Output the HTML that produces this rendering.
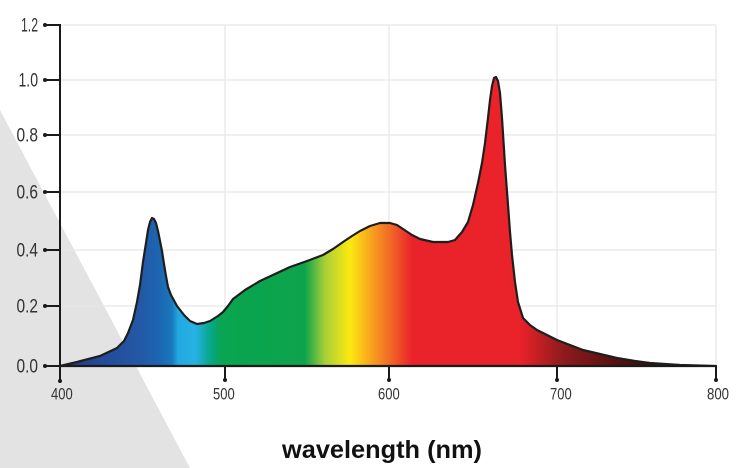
<!DOCTYPE html>
<html>
<head>
<meta charset="utf-8">
<style>
  html,body{margin:0;padding:0;background:#fff;}
  body{width:750px;height:468px;overflow:hidden;}
  svg{display:block;}
  .yl{font-family:"Liberation Sans Narrow","Liberation Sans",sans-serif;font-size:19px;fill:#333;}
  .xl{font-family:"Liberation Sans Narrow","Liberation Sans",sans-serif;font-size:16.5px;fill:#333;}
  .title{font-family:"Liberation Sans",sans-serif;font-weight:bold;font-size:25px;fill:#111;}
</style>
</head>
<body>
<svg width="750" height="468" viewBox="0 0 750 468" xmlns="http://www.w3.org/2000/svg">
  <defs>
    <linearGradient id="spec" gradientUnits="userSpaceOnUse" x1="60" y1="0" x2="716" y2="0">
      <stop offset="0" stop-color="#1f3c88"/>
      <stop offset="0.122" stop-color="#2458a6"/>
      <stop offset="0.152" stop-color="#1b66b1"/>
      <stop offset="0.171" stop-color="#1a78bd"/>
      <stop offset="0.180" stop-color="#22a8e0"/>
      <stop offset="0.206" stop-color="#27b1e4"/>
      <stop offset="0.229" stop-color="#07a78a"/>
      <stop offset="0.247" stop-color="#0aa550"/>
      <stop offset="0.373" stop-color="#0ca34b"/>
      <stop offset="0.404" stop-color="#a8cf38"/>
      <stop offset="0.442" stop-color="#fde910"/>
      <stop offset="0.473" stop-color="#f8a51d"/>
      <stop offset="0.503" stop-color="#f16a27"/>
      <stop offset="0.537" stop-color="#ea2229"/>
      <stop offset="0.701" stop-color="#ea2229"/>
      <stop offset="0.767" stop-color="#8e1b1d"/>
      <stop offset="0.843" stop-color="#5a1010"/>
      <stop offset="0.915" stop-color="#3a0d0d"/>
      <stop offset="1" stop-color="#2a0c0c"/>
    </linearGradient>
  </defs>

  <!-- gray triangle background -->
  <polygon points="0,110 190,468 0,468" fill="#e3e3e3"/>

  <!-- grid -->
  <g stroke="#e6e6e6" stroke-width="1.2">
    <line x1="60" y1="25" x2="716" y2="25"/>
    <line x1="60" y1="80" x2="716" y2="80"/>
    <line x1="60" y1="135" x2="716" y2="135"/>
    <line x1="60" y1="192" x2="716" y2="192"/>
    <line x1="60" y1="250" x2="716" y2="250"/>
    <line x1="60" y1="306" x2="716" y2="306"/>
    <line x1="225" y1="25" x2="225" y2="366"/>
    <line x1="389" y1="25" x2="389" y2="366"/>
    <line x1="557" y1="25" x2="557" y2="366"/>
    <line x1="716" y1="25" x2="716" y2="366"/>
  </g>

  <!-- spectrum area -->
  <path fill="url(#spec)" stroke="#1e1e1e" stroke-width="2.2" stroke-linejoin="round"
    d="M60,366 L77,362 L100,356 L117,348 L124,341 L128,333 L133,320 L137,302 L140,285 L143,262 L146,243 L148,230 L150,222 L152,218 L154,219 L156,223 L158,231 L160,241 L162,251 L164,264 L166,276 L168,287 L171,295 L177,306 L184,315 L190,321 L197,324 L204,323 L210,321 L218,316 L223,312 L228,306 L233,299 L245,290 L260,281 L275,274 L290,267 L307,261 L323,255 L333,249 L343,242 L352,236 L360,231 L370,226 L380,223 L390,223 L397,225 L403,229 L412,235 L420,239 L433,242 L448,242 L455,240 L462,232 L468,222 L473,205 L478,183 L482,163 L485,143 L488,118 L490,100 L492,86 L494,78 L496,77 L498,81 L500,93 L502,118 L505,165 L508,205 L510,232 L512,255 L515,282 L518,302 L523,318 L530,325 L537,330 L547,335 L557,340 L570,345 L583,350 L600,354 L617,358 L635,361 L650,363 L680,365 L716,366 Z"/>

  <!-- axes -->
  <g stroke="#1a1a1a" stroke-width="2">
    <line x1="60" y1="24" x2="60" y2="381"/>
    <line x1="59" y1="366" x2="716" y2="366"/>
    <!-- y ticks -->
    <line x1="45" y1="25" x2="60" y2="25"/>
    <line x1="45" y1="80" x2="60" y2="80"/>
    <line x1="45" y1="135" x2="60" y2="135"/>
    <line x1="45" y1="192" x2="60" y2="192"/>
    <line x1="45" y1="250" x2="60" y2="250"/>
    <line x1="45" y1="306" x2="60" y2="306"/>
    <line x1="45" y1="366" x2="60" y2="366"/>
    <!-- x ticks -->
    <line x1="225" y1="366" x2="225" y2="380"/>
    <line x1="389" y1="366" x2="389" y2="380"/>
    <line x1="557" y1="366" x2="557" y2="380"/>
    <line x1="716" y1="366" x2="716" y2="380"/>
  </g>
  <g fill="#1a1a1a">
    <circle cx="45" cy="25" r="2"/>
    <circle cx="45" cy="80" r="2"/>
    <circle cx="45" cy="135" r="2"/>
    <circle cx="45" cy="192" r="2"/>
    <circle cx="45" cy="250" r="2"/>
    <circle cx="45" cy="306" r="2"/>
    <circle cx="45" cy="366" r="2"/>
    <circle cx="60" cy="381" r="2"/>
    <circle cx="225" cy="380" r="2"/>
    <circle cx="389" cy="380" r="2"/>
    <circle cx="557" cy="380" r="2"/>
    <circle cx="716" cy="380" r="2"/>
  </g>

  <!-- y labels -->
  <text class="yl" x="38" y="31.7" text-anchor="end" textLength="17" lengthAdjust="spacingAndGlyphs">1.2</text>
  <text class="yl" x="38" y="86.7" text-anchor="end" textLength="19.5" lengthAdjust="spacingAndGlyphs">1.0</text>
  <text class="yl" x="38" y="141.7" text-anchor="end" textLength="21.5" lengthAdjust="spacingAndGlyphs">0.8</text>
  <text class="yl" x="38" y="198.7" text-anchor="end" textLength="21.5" lengthAdjust="spacingAndGlyphs">0.6</text>
  <text class="yl" x="38" y="256.7" text-anchor="end" textLength="21.5" lengthAdjust="spacingAndGlyphs">0.4</text>
  <text class="yl" x="38" y="312.7" text-anchor="end" textLength="21.5" lengthAdjust="spacingAndGlyphs">0.2</text>
  <text class="yl" x="38" y="372.7" text-anchor="end" textLength="21.5" lengthAdjust="spacingAndGlyphs">0.0</text>

  <!-- x labels -->
  <text class="xl" x="51" y="399.5" textLength="21.7" lengthAdjust="spacingAndGlyphs">400</text>
  <text class="xl" x="213" y="399.5" textLength="21.7" lengthAdjust="spacingAndGlyphs">500</text>
  <text class="xl" x="378" y="399.5" textLength="21.7" lengthAdjust="spacingAndGlyphs">600</text>
  <text class="xl" x="550" y="399.5" textLength="21.7" lengthAdjust="spacingAndGlyphs">700</text>
  <text class="xl" x="707" y="399.5" textLength="22" lengthAdjust="spacingAndGlyphs">800</text>

  <!-- title -->
  <text class="title" x="282" y="458" textLength="200" lengthAdjust="spacingAndGlyphs">wavelength (nm)</text>
</svg>
</body>
</html>
